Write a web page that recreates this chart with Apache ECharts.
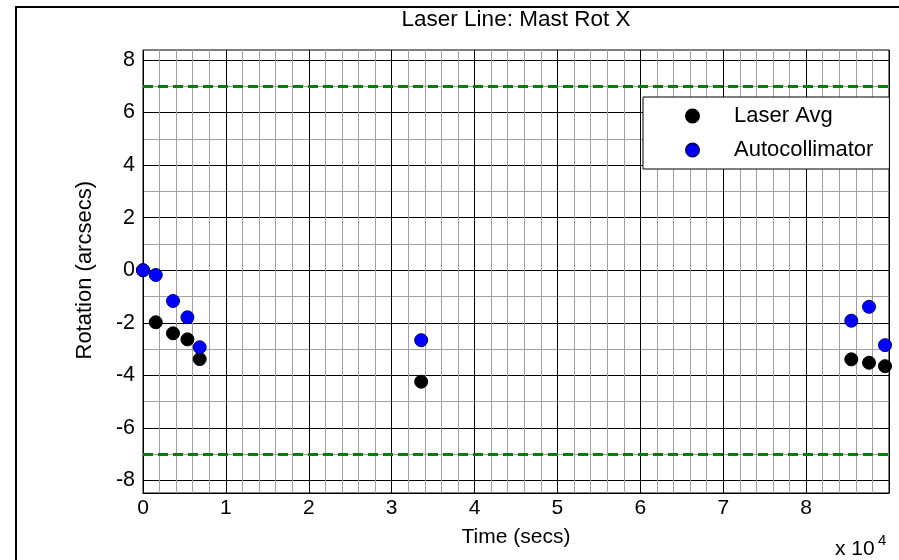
<!DOCTYPE html>
<html><head><meta charset="utf-8">
<script src="https://cdn.jsdelivr.net/npm/echarts@6/dist/echarts.min.js"></script>
<style>html,body{margin:0;padding:0;background:#fff}#c{width:899px;height:560px}</style>
</head><body><div id="c"></div><script>
// Data
const timeSecs = [0, 1540, 3620, 5360, 6840, 33560, 85450, 87590, 89520];
const laserAvg = [0, -1.98, -2.40, -2.63, -3.38, -4.24, -3.39, -3.52, -3.65];
const autocollimator = [0, -0.18, -1.17, -1.79, -2.93, -2.66, -1.92, -1.39, -2.85];
const limitLines = [7, -7];
const xTickLabels = ['0','1','2','3','4','5','6','7','8','9'];
const seriesNames = ['Laser Avg', 'Autocollimator'];

const FONT = "'Liberation Sans', Arial, Helvetica, sans-serif";
const chart = echarts.init(document.getElementById('c'), null, {renderer: 'canvas'});
const pts = ys => timeSecs.map((t, i) => [t, ys[i]]);

chart.setOption({
  animation: false,
  backgroundColor: '#fff',
  textStyle: {fontFamily: FONT},
  title: {
    text: 'Laser Line: Mast Rot X', left: 516, top: 8, textAlign: 'center', padding: 0,
    textStyle: {fontFamily: FONT, fontSize: 22.5, fontWeight: 'normal', color: '#000'}
  },
  grid: [
    {left: 143, right: 10, top: 50, bottom: 67, show: true, borderColor: '#000', borderWidth: 1, backgroundColor: 'transparent'},
    {left: 143, right: 10, top: 60, bottom: 79.5}
  ],
  xAxis: [
    {
      gridIndex: 0, type: 'value', min: 0, max: 90000, interval: 10000,
      axisLine: {show: true, lineStyle: {color: '#000', width: 1}},
      axisTick: {show: false},
      axisLabel: {
        margin: 5, fontSize: 21, color: '#000', fontFamily: FONT, showMaxLabel: false,
        formatter: v => xTickLabels[Math.round(v / 10000)]
      },
      splitLine: {show: true, lineStyle: {color: '#000', width: 1}},
      minorTick: {show: false, splitNumber: 5},
      minorSplitLine: {show: true, lineStyle: {color: '#a0a0a0', width: 1}},
      name: 'Time (secs)', nameLocation: 'middle', nameGap: 34,
      nameTextStyle: {fontSize: 21, color: '#000', fontFamily: FONT}
    },
    {gridIndex: 1, type: 'value', min: 0, max: 90000, show: false}
  ],
  yAxis: [
    {gridIndex: 0, type: 'value', min: 0, max: 1, show: false},
    {
      gridIndex: 1, type: 'value', min: -8, max: 8, interval: 2,
      axisLine: {show: false}, axisTick: {show: false},
      axisLabel: {margin: 8, fontSize: 21.5, color: '#000', fontFamily: FONT},
      splitLine: {show: true, lineStyle: {color: '#000', width: 1}},
      minorTick: {show: false, splitNumber: 2},
      minorSplitLine: {show: true, lineStyle: {color: '#a0a0a0', width: 1}},
      name: 'Rotation (arcsecs)', nameLocation: 'middle', nameGap: 47, nameRotate: 90,
      nameTextStyle: {fontSize: 22, color: '#000', fontFamily: FONT}
    }
  ],
  legend: {
    orient: 'vertical', left: 643, top: 97, data: seriesNames,
    icon: 'circle', itemWidth: 13, itemHeight: 13, itemGap: 12,
    padding: [8, 16, 8, 42], borderColor: '#000', borderWidth: 1, backgroundColor: '#fff',
    selectedMode: false,
    textStyle: {fontSize: 22, color: '#000', fontFamily: FONT, padding: [0, 0, 0, 30]}
  },
  series: [
    {
      name: seriesNames[0], type: 'scatter', xAxisIndex: 1, yAxisIndex: 1, clip: false,
      symbol: 'circle', symbolSize: 13, data: pts(laserAvg),
      itemStyle: {color: '#000', borderColor: '#000', borderWidth: 1, opacity: 1},
      z: 3,
      markLine: {
        silent: true, symbol: 'none', label: {show: false},
        lineStyle: {color: '#008000', width: 3, type: [10, 5], opacity: 1},
        data: limitLines.map(v => ({yAxis: v}))
      }
    },
    {
      name: seriesNames[1], type: 'scatter', xAxisIndex: 1, yAxisIndex: 1, clip: false,
      symbol: 'circle', symbolSize: 13, data: pts(autocollimator),
      itemStyle: {color: '#0000ff', borderColor: '#00007a', borderWidth: 1, opacity: 1},
      z: 4
    }
  ],
  graphic: [
    {type: 'rect', silent: true, z: 100, shape: {x: 16, y: 7, width: 1000, height: 1000},
     style: {fill: 'none', stroke: '#000', lineWidth: 2}},
    {type: 'text', silent: true, x: 835, y: 549.4,
     style: {text: 'x 10', font: "21px " + FONT, fill: '#000', verticalAlign: 'middle', align: 'left'}},
    {type: 'text', silent: true, x: 878, y: 541,
     style: {text: '4', font: "15px " + FONT, fill: '#000', verticalAlign: 'middle', align: 'left'}}
  ]
});
</script></body></html>
